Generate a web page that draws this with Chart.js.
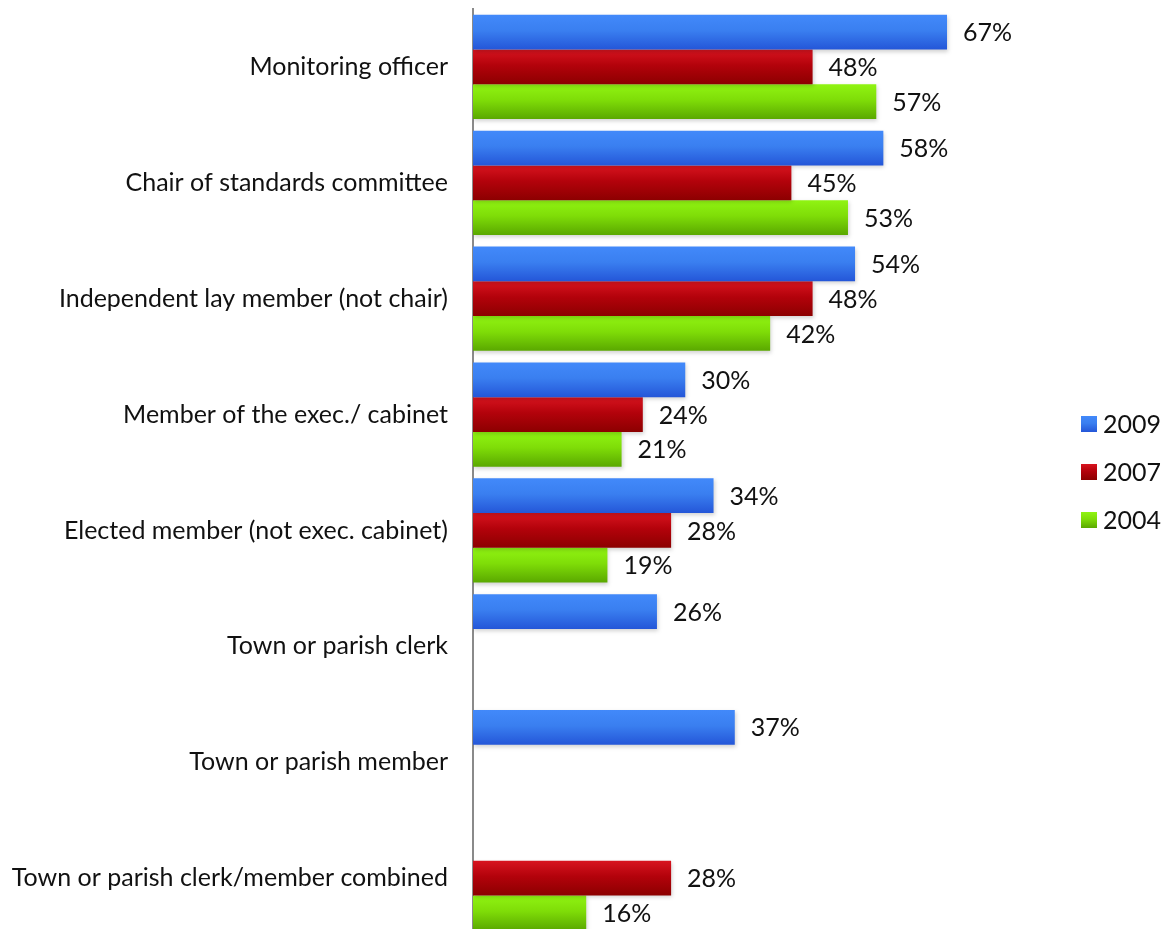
<!DOCTYPE html>
<html>
<head>
<meta charset="utf-8">
<script src="https://cdn.jsdelivr.net/npm/chart.js@4/dist/chart.umd.min.js"></script>
<style>
  html, body { margin: 0; padding: 0; background: #ffffff; overflow: hidden; }
  #wrap { width: 1165px; height: 936px; }
</style>
</head>
<body>
<div id="wrap"><canvas id="chart" width="1165" height="936"></canvas></div>
<script>
// Who received complaint reports, by survey year (% of authorities)
const categories = [
  'Monitoring officer',
  'Chair of standards committee',
  'Independent lay member (not chair)',
  'Member of the exec./ cabinet',
  'Elected member (not exec. cabinet)',
  'Town or parish clerk',
  'Town or parish member',
  'Town or parish clerk/member combined'
];
const years = ['2009', '2007', '2004'];
const values2009 = [67, 58, 54, 30, 34, 26, 37, null];
const values2007 = [48, 45, 48, 24, 28, null, null, 28];
const values2004 = [57, 53, 42, 21, 19, null, null, 16];

const FONT = 'Lato, "Open Sans", sans-serif';
const FONT_SIZE = 25;
const CAT_PCT = 0.9;

// light-to-dark vertical shading for each series
const shades = [
  ['#4289fa', '#3a7ff0', '#2456d8'],
  ['#d8141f', '#b3020b', '#8c0000'],
  ['#90f412', '#7fdd08', '#5aa800']
];

function shadedFill(c) {
  const stops = shades[c.datasetIndex];
  const chart = c.chart;
  const y = chart.scales && chart.scales.y;
  if (c.type !== 'data' || !y || !chart.chartArea) return stops[1];
  const size = (y.bottom - y.top) / categories.length;
  const barH = size * CAT_PCT / years.length;
  const center = y.getPixelForValue(c.dataIndex) + (c.datasetIndex - 1) * barH;
  const g = chart.ctx.createLinearGradient(0, center - barH / 2, 0, center + barH / 2);
  g.addColorStop(0, stops[0]);
  g.addColorStop(0.45, stops[1]);
  g.addColorStop(1, stops[2]);
  return g;
}

// percentage labels to the right of each bar
const valueLabels = {
  id: 'valueLabels',
  afterDatasetsDraw(chart) {
    const ctx = chart.ctx;
    ctx.save();
    ctx.font = FONT_SIZE + 'px ' + FONT;
    ctx.fillStyle = '#111111';
    ctx.textAlign = 'left';
    ctx.textBaseline = 'middle';
    chart.data.datasets.forEach((ds, di) => {
      const meta = chart.getDatasetMeta(di);
      meta.data.forEach((el, i) => {
        const v = ds.data[i];
        if (v === null || v === undefined) return;
        ctx.fillText(v + '%', el.x + 16, el.y + 1);
      });
    });
    ctx.restore();
  }
};

// soft drop shadow under the bars
const barShadow = {
  id: 'barShadow',
  beforeDatasetsDraw(chart) {
    const ctx = chart.ctx;
    ctx.save();
    ctx.shadowColor = 'rgba(0,0,0,0.18)';
    ctx.shadowBlur = 4;
    ctx.shadowOffsetY = 2;
    ctx.shadowOffsetX = 1;
  },
  afterDatasetsDraw(chart) {
    chart.ctx.restore();
  }
};

// legend column at the right
const sideLegend = {
  id: 'sideLegend',
  afterDraw(chart) {
    const ctx = chart.ctx;
    const centers = [424, 472, 520];
    ctx.save();
    ctx.font = FONT_SIZE + 'px ' + FONT;
    ctx.textAlign = 'left';
    ctx.textBaseline = 'middle';
    years.forEach((yr, i) => {
      const cy = centers[i];
      const g = ctx.createLinearGradient(0, cy - 8, 0, cy + 8);
      g.addColorStop(0, shades[i][0]);
      g.addColorStop(0.45, shades[i][1]);
      g.addColorStop(1, shades[i][2]);
      ctx.fillStyle = g;
      ctx.fillRect(1081, cy - 8, 16, 16);
      ctx.fillStyle = '#111111';
      ctx.fillText(yr, 1103, cy + 1);
    });
    ctx.restore();
  }
};

new Chart(document.getElementById('chart'), {
  type: 'bar',
  data: {
    labels: categories,
    datasets: [
      { label: years[0], data: values2009, backgroundColor: shadedFill },
      { label: years[1], data: values2007, backgroundColor: shadedFill },
      { label: years[2], data: values2004, backgroundColor: shadedFill }
    ]
  },
  options: {
    indexAxis: 'y',
    responsive: false,
    animation: false,
    devicePixelRatio: 1,
    categoryPercentage: CAT_PCT,
    barPercentage: 1.0,
    layout: { padding: { top: 9, right: 126, bottom: 0, left: 0 } },
    plugins: {
      legend: { display: false },
      tooltip: { enabled: false }
    },
    scales: {
      x: {
        display: false,
        min: 0,
        max: 80
      },
      y: {
        z: 1,
        grid: { display: false, drawTicks: false },
        border: { display: true, color: '#8a8a8a', width: 2 },
        ticks: {
          color: '#111111',
          padding: 25,
          font: { family: FONT, size: FONT_SIZE }
        },
        afterFit(scale) {
          scale.width = 473;
          scale.paddingTop = 0;
          scale.paddingBottom = 0;
        }
      }
    }
  },
  plugins: [barShadow, valueLabels, sideLegend]
});
</script>
</body>
</html>
